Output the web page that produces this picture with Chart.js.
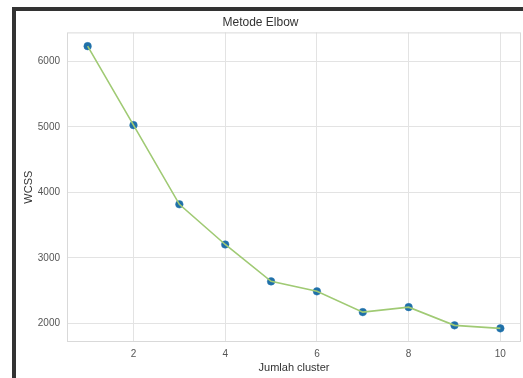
<!DOCTYPE html>
<html>
<head>
<meta charset="utf-8">
<script src="https://cdn.jsdelivr.net/npm/chart.js@4/dist/chart.umd.min.js"></script>
<style>
    html, body { margin: 0; padding: 0; background: #fff; }
    #wrap { position: relative; width: 523px; height: 378px; overflow: hidden; }
    #frame {
        position: absolute; left: 12px; top: 7px; right: -10px; bottom: -10px;
        border-top: 4px solid #333; border-left: 4px solid #333;
    }
    canvas { position: absolute; left: 0; top: 0; }
</style>
</head>
<body>
<div id="wrap">
    <div id="frame"></div>
    <canvas id="elbowChart" width="523" height="378"></canvas>
</div>
<script>
// values
const clusters = [1, 2, 3, 4, 5, 6, 7, 8, 9, 10];
const wcss = [6230, 5025, 3817, 3204, 2641, 2489, 2172, 2248, 1970, 1924];
const xTicks = [2, 4, 6, 8, 10];
const yTicks = [2000, 3000, 4000, 5000, 6000];

const points = clusters.map((c, i) => ({ x: c, y: wcss[i] }));

// light grey box round the plot area
const boxPlugin = {
    id: 'box',
    afterDraw(chart) {
        const { ctx, chartArea } = chart;
        ctx.save();
        ctx.strokeStyle = '#d9d9d9';
        ctx.lineWidth = 1;
        ctx.strokeRect(chartArea.left + 0.5, chartArea.top + 0.5,
            chartArea.right - chartArea.left - 1, chartArea.bottom - chartArea.top - 1);
        ctx.restore();
    }
};

Chart.defaults.font.family = '"Liberation Sans", Arial, sans-serif';

new Chart(document.getElementById('elbowChart'), {
    type: 'scatter',
    data: {
        datasets: [
            {
                data: points,
                showLine: true,
                borderColor: '#a0ca74',
                borderWidth: 1.6,
                pointRadius: 0,
                order: 1
            },
            {
                data: points,
                showLine: false,
                pointRadius: 3.8,
                pointBackgroundColor: '#1f6fa8',
                pointBorderColor: '#2a7ab2',
                pointBorderWidth: 0.5,
                order: 2
            }
        ]
    },
    plugins: [boxPlugin],
    options: {
        responsive: false,
        animation: false,
        layout: { autoPadding: false, padding: { left: 0, right: 2, top: 0, bottom: 0 } },
        plugins: {
            legend: { display: false },
            tooltip: { enabled: false },
            title: {
                display: true,
                text: 'Metode Elbow',
                color: '#333',
                font: { size: 12, weight: 'normal' },
                padding: { top: 15, bottom: 3 }
            }
        },
        scales: {
            x: {
                type: 'linear',
                min: 0.55,
                max: 10.45,
                afterBuildTicks: (scale) => { scale.ticks = xTicks.map(v => ({ value: v })); },
                afterFit: (scale) => {
                    scale.height = 36;
                    scale.paddingLeft = 0;
                    scale.paddingRight = 0;
                },
                grid: { color: '#e3e3e3', drawTicks: false },
                border: { display: false },
                ticks: { color: '#555', font: { size: 10 }, padding: 6 },
                title: {
                    display: true,
                    text: 'Jumlah cluster',
                    color: '#333',
                    font: { size: 11 },
                    padding: { top: 0, bottom: 3 }
                }
            },
            y: {
                type: 'linear',
                min: 1716,
                max: 6440,
                afterBuildTicks: (scale) => { scale.ticks = yTicks.map(v => ({ value: v })); },
                afterFit: (scale) => { scale.width = 67; },
                grid: { color: '#e3e3e3', drawTicks: false },
                border: { display: false },
                ticks: {
                    color: '#555',
                    font: { size: 10 },
                    padding: 7,
                    callback: (value) => String(value)
                },
                title: {
                    display: true,
                    text: 'WCSS',
                    color: '#333',
                    font: { size: 11 },
                    padding: { top: 22, bottom: 0 }
                }
            }
        }
    }
});
</script>
</body>
</html>
